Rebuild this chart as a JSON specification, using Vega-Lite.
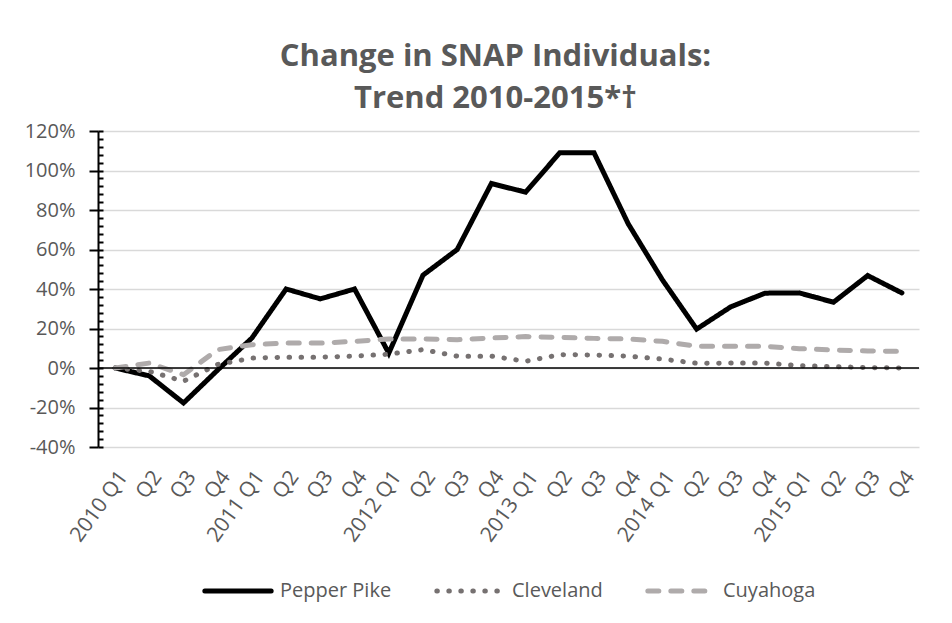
{
  "$schema": "https://vega.github.io/schema/vega-lite/v6.json",
  "width": 821,
  "height": 316,
  "padding": {"left": 24, "top": 41, "right": 20, "bottom": 5},
  "background": "white",
  "title": {
    "text": ["Change in SNAP Individuals:", "Trend 2010-2015*†"],
    "font": "Open Sans",
    "fontSize": 31,
    "fontWeight": "bold",
    "color": "#595959",
    "lineHeight": 42,
    "anchor": "middle",
    "dx": -13,
    "offset": 6
  },
  "config": {
    "view": {"stroke": null},
    "font": "Open Sans",
    "legend": {"layout": {"bottom": {"anchor": "middle"}}}
  },
  "resolve": {"axis": {"y": "independent"}},
  "layer": [
    {
      "data": {
        "values": [
          {"q": "2010 Q1", "s": "Pepper Pike", "v": 0},
          {"q": "2010 Q2", "s": "Pepper Pike", "v": -4},
          {"q": "2010 Q3", "s": "Pepper Pike", "v": -17.7},
          {"q": "2010 Q4", "s": "Pepper Pike", "v": -1},
          {"q": "2011 Q1", "s": "Pepper Pike", "v": 15.2},
          {"q": "2011 Q2", "s": "Pepper Pike", "v": 40},
          {"q": "2011 Q3", "s": "Pepper Pike", "v": 35},
          {"q": "2011 Q4", "s": "Pepper Pike", "v": 40},
          {"q": "2012 Q1", "s": "Pepper Pike", "v": 7.5},
          {"q": "2012 Q2", "s": "Pepper Pike", "v": 47},
          {"q": "2012 Q3", "s": "Pepper Pike", "v": 60},
          {"q": "2012 Q4", "s": "Pepper Pike", "v": 93.4},
          {"q": "2013 Q1", "s": "Pepper Pike", "v": 89},
          {"q": "2013 Q2", "s": "Pepper Pike", "v": 109},
          {"q": "2013 Q3", "s": "Pepper Pike", "v": 109},
          {"q": "2013 Q4", "s": "Pepper Pike", "v": 73},
          {"q": "2014 Q1", "s": "Pepper Pike", "v": 44.6},
          {"q": "2014 Q2", "s": "Pepper Pike", "v": 19.7},
          {"q": "2014 Q3", "s": "Pepper Pike", "v": 31},
          {"q": "2014 Q4", "s": "Pepper Pike", "v": 37.9},
          {"q": "2015 Q1", "s": "Pepper Pike", "v": 38},
          {"q": "2015 Q2", "s": "Pepper Pike", "v": 33.3},
          {"q": "2015 Q3", "s": "Pepper Pike", "v": 46.8},
          {"q": "2015 Q4", "s": "Pepper Pike", "v": 38},
          {"q": "2010 Q1", "s": "Cleveland", "v": 0},
          {"q": "2010 Q2", "s": "Cleveland", "v": -1.7},
          {"q": "2010 Q3", "s": "Cleveland", "v": -6.7},
          {"q": "2010 Q4", "s": "Cleveland", "v": 1.8},
          {"q": "2011 Q1", "s": "Cleveland", "v": 5},
          {"q": "2011 Q2", "s": "Cleveland", "v": 5.5},
          {"q": "2011 Q3", "s": "Cleveland", "v": 5.5},
          {"q": "2011 Q4", "s": "Cleveland", "v": 6},
          {"q": "2012 Q1", "s": "Cleveland", "v": 7},
          {"q": "2012 Q2", "s": "Cleveland", "v": 9.3},
          {"q": "2012 Q3", "s": "Cleveland", "v": 6},
          {"q": "2012 Q4", "s": "Cleveland", "v": 6},
          {"q": "2013 Q1", "s": "Cleveland", "v": 3.4},
          {"q": "2013 Q2", "s": "Cleveland", "v": 6.7},
          {"q": "2013 Q3", "s": "Cleveland", "v": 6.6},
          {"q": "2013 Q4", "s": "Cleveland", "v": 6},
          {"q": "2014 Q1", "s": "Cleveland", "v": 4.5},
          {"q": "2014 Q2", "s": "Cleveland", "v": 2.4},
          {"q": "2014 Q3", "s": "Cleveland", "v": 2.5},
          {"q": "2014 Q4", "s": "Cleveland", "v": 2.5},
          {"q": "2015 Q1", "s": "Cleveland", "v": 1.2},
          {"q": "2015 Q2", "s": "Cleveland", "v": 0.7},
          {"q": "2015 Q3", "s": "Cleveland", "v": 0.2},
          {"q": "2015 Q4", "s": "Cleveland", "v": 0},
          {"q": "2010 Q1", "s": "Cuyahoga", "v": 0},
          {"q": "2010 Q2", "s": "Cuyahoga", "v": 2.5},
          {"q": "2010 Q3", "s": "Cuyahoga", "v": -3.4},
          {"q": "2010 Q4", "s": "Cuyahoga", "v": 9.3},
          {"q": "2011 Q1", "s": "Cuyahoga", "v": 11.8},
          {"q": "2011 Q2", "s": "Cuyahoga", "v": 12.6},
          {"q": "2011 Q3", "s": "Cuyahoga", "v": 12.6},
          {"q": "2011 Q4", "s": "Cuyahoga", "v": 13.5},
          {"q": "2012 Q1", "s": "Cuyahoga", "v": 14.7},
          {"q": "2012 Q2", "s": "Cuyahoga", "v": 14.7},
          {"q": "2012 Q3", "s": "Cuyahoga", "v": 14.3},
          {"q": "2012 Q4", "s": "Cuyahoga", "v": 15.2},
          {"q": "2013 Q1", "s": "Cuyahoga", "v": 15.9},
          {"q": "2013 Q2", "s": "Cuyahoga", "v": 15.5},
          {"q": "2013 Q3", "s": "Cuyahoga", "v": 15},
          {"q": "2013 Q4", "s": "Cuyahoga", "v": 14.7},
          {"q": "2014 Q1", "s": "Cuyahoga", "v": 13.5},
          {"q": "2014 Q2", "s": "Cuyahoga", "v": 11},
          {"q": "2014 Q3", "s": "Cuyahoga", "v": 11},
          {"q": "2014 Q4", "s": "Cuyahoga", "v": 11},
          {"q": "2015 Q1", "s": "Cuyahoga", "v": 9.8},
          {"q": "2015 Q2", "s": "Cuyahoga", "v": 9.1},
          {"q": "2015 Q3", "s": "Cuyahoga", "v": 8.6},
          {"q": "2015 Q4", "s": "Cuyahoga", "v": 8.4}
        ]
      },
      "mark": {"type": "line", "strokeWidth": 5, "strokeCap": "round", "strokeJoin": "miter"},
      "encoding": {
        "x": {
          "field": "q",
          "type": "ordinal",
          "sort": null,
          "scale": {"type": "point", "padding": 0.5},
          "axis": {
            "title": null,
            "domain": false,
            "ticks": false,
            "grid": false,
            "labelAngle": -54,
            "labelAlign": "right",
            "labelBaseline": "middle",
            "labelPadding": 26,
            "labelOffset": 8,
            "labelFont": "Open Sans",
            "labelFontSize": 21,
            "labelColor": "#595959",
            "labelExpr": "indexof(datum.value, 'Q1') >= 0 ? datum.value : substring(datum.value, 5)"
          }
        },
        "y": {
          "field": "v",
          "type": "quantitative",
          "scale": {"domain": [-40, 120], "nice": false},
          "axis": {
            "title": null,
            "orient": "left",
            "values": [-40, -20, 0, 20, 40, 60, 80, 100, 120],
            "labelOverlap": false,
            "labelExpr": "datum.value + '%'",
            "labelFont": "Open Sans",
            "labelFontSize": 20,
            "labelColor": "#595959",
            "labelPadding": 14,
            "domainColor": "#000000",
            "domainWidth": 2,
            "tickColor": "#000000",
            "tickWidth": 2,
            "tickSize": 9,
            "gridColor": "#d9d9d9",
            "gridWidth": 1.3
          }
        },
        "color": {
          "field": "s",
          "type": "nominal",
          "scale": {"domain": ["Pepper Pike", "Cleveland", "Cuyahoga"], "range": ["#000000", "#767171", "#afabab"]},
          "legend": {
            "title": null,
            "orient": "bottom",
            "direction": "horizontal",
            "symbolType": "stroke",
            "symbolSize": 4400,
            "symbolStrokeWidth": 5,
            "labelFont": "Open Sans",
            "labelFontSize": 20,
            "labelColor": "#595959",
            "labelOffset": 6,
            "columnPadding": 34,
            "offset": 9,
            "encode": {"symbols": {"update": {"strokeCap": {"value": "round"}}}}
          }
        },
        "strokeDash": {
          "field": "s",
          "type": "nominal",
          "scale": {"domain": ["Pepper Pike", "Cleveland", "Cuyahoga"], "range": [[1, 0], [0.5, 11.5], [11, 12]]},
          "legend": {
            "title": null,
            "orient": "bottom",
            "direction": "horizontal",
            "symbolType": "stroke",
            "symbolSize": 4400,
            "symbolStrokeWidth": 5,
            "labelFont": "Open Sans",
            "labelFontSize": 20,
            "labelColor": "#595959",
            "labelOffset": 6,
            "columnPadding": 34,
            "offset": 9,
            "encode": {"symbols": {"update": {"strokeCap": {"value": "round"}}}}
          }
        }
      }
    },
    {
      "data": {"values": [{"z": 0}]},
      "mark": {"type": "rule", "color": "#000000", "strokeWidth": 1.5},
      "encoding": {"y": {"field": "z", "type": "quantitative", "axis": null}}
    },
    {
      "data": {"values": [{"z": 0}]},
      "mark": {"type": "rule", "opacity": 0},
      "encoding": {
        "y": {
          "field": "z",
          "type": "quantitative",
          "axis": {
            "title": null,
            "orient": "left",
            "values": [-40, -36, -32, -28, -24, -20, -16, -12, -8, -4, 0, 4, 8, 12, 16, 20, 24, 28, 32, 36, 40, 44, 48, 52, 56, 60, 64, 68, 72, 76, 80, 84, 88, 92, 96, 100, 104, 108, 112, 116, 120],
            "labels": false,
            "domain": false,
            "grid": false,
            "tickSize": -5,
            "tickColor": "#000000",
            "tickWidth": 2
          }
        }
      }
    }
  ]
}
